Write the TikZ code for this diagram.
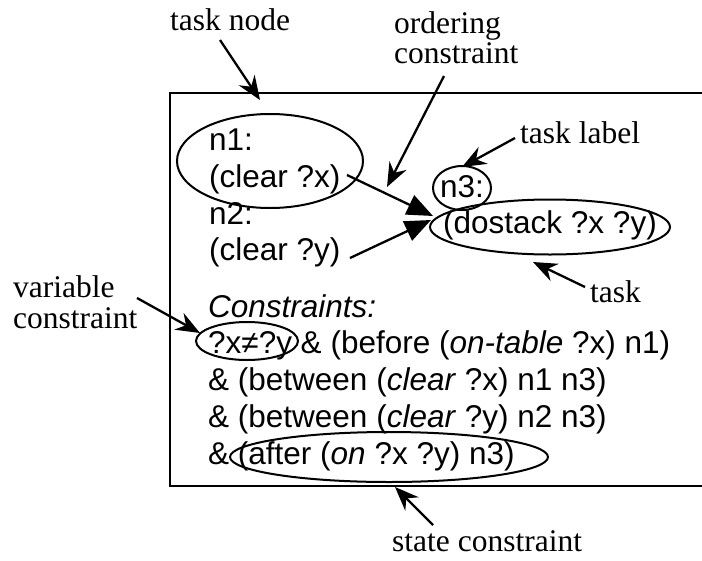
\documentclass[tikz,border=0pt]{standalone}
\usepackage{fontspec}
\setmainfont{Liberation Serif}
\newfontfamily\hvfont{Liberation Sans}
\usetikzlibrary{arrows.meta,shapes.geometric}
\begin{document}
\begin{tikzpicture}[x=1pt,y=-1pt,
  lbl/.style={inner sep=0pt,anchor=base west,font=\fontsize{31.5}{36}\selectfont},
  txt/.style={inner sep=0pt,anchor=base west,font=\hvfont\fontsize{31.5}{36}\selectfont},
  ring/.style={draw,ellipse,line width=2pt,inner sep=0pt},
  note/.style={line width=2.3pt,-{Stealth[length=24pt,width=19pt,inset=8pt]}},
  order/.style={line width=2.3pt,-{Triangle[length=26pt,width=21pt]}},
  framebox/.style={line width=2.5pt}]
\useasboundingbox (0,0) rectangle (702,560);
% frame
\draw[framebox] (702,93) -- (170,93) -- (170,486) -- (702,486);
% ellipses
\node[ring,minimum width=186pt,minimum height=94pt] (e1) at (270,161) {};
\node[ring,minimum width=58pt,minimum height=44pt] (e3) at (462,188) {};
\node[ring,minimum width=240pt,minimum height=55pt] (ed) at (550,227) {};
\node[ring,minimum width=102pt,minimum height=38pt] (ev) at (247,341) {};
\node[ring,minimum width=318pt,minimum height=50pt] (ea) at (389,457) {};
% task text
\node[txt] (n1) at (209,150) {n1:};
\node[txt] (cx) at (209,187) {(clear ?x)};
\node[txt] (n2) at (209,224) {n2:};
\node[txt] (cy) at (209,260) {(clear ?y)};
\node[txt] (n3) at (440,197) {n3:};
\node[txt] (dst) at (443,233) {(dostack ?x ?y)};
\node[txt] (cons) at (208,317) {\itshape Constraints:};
\node[txt] (l1) at (208,353) {?x≠?y \& (before (\textit{on-table} ?x) n1)};
\node[txt] (l2) at (208,390) {\& (between (\textit{clear} ?x) n1 n3)};
\node[txt] (l3) at (208,427) {\& (between (\textit{clear} ?y) n2 n3)};
\node[txt] (l4) at (208,464) {\& (after (\textit{on} ?x ?y) n3)};
% annotation labels
\node[lbl] (tn) at (170,30) {task node};
\node[lbl] (oc1) at (394,33) {ordering};
\node[lbl] (oc2) at (394,63) {constraint};
\node[lbl] (tl) at (520,143) {task label};
\node[lbl] (tk) at (590,302) {task};
\node[lbl] (vc1) at (13,297) {variable};
\node[lbl] (vc2) at (13,328) {constraint};
\node[lbl] (sc) at (392,551) {state constraint};
% connector end points
\coordinate (tnS) at (220,40);   \coordinate (tnT) at (260,100);
\coordinate (ocS) at (444,76);   \coordinate (ocT) at (387,187);
\coordinate (tlS) at (515,138);  \coordinate (tlT) at (462,167);
\coordinate (tkS) at (585,287);  \coordinate (tkT) at (533,262);
\coordinate (vcS) at (137,298);  \coordinate (vcT) at (200,333);
\coordinate (scS) at (433,525);  \coordinate (scT) at (395,487);
\coordinate (o1S) at (347,175);  \coordinate (o1T) at (433,216);
\coordinate (o2S) at (350,258);  \coordinate (o2T) at (431,220);
% ordering constraints
\draw[order] (o1S) -- (o1T);
\draw[order] (o2S) -- (o2T);
% annotation arrows
\draw[note] (tnS) -- (tnT);
\draw[note] (ocS) -- (ocT);
\draw[note] (tlS) -- (tlT);
\draw[note] (tkS) -- (tkT);
\draw[note] (vcS) -- (vcT);
\draw[note] (scS) -- (scT);
\end{tikzpicture}
\end{document}
